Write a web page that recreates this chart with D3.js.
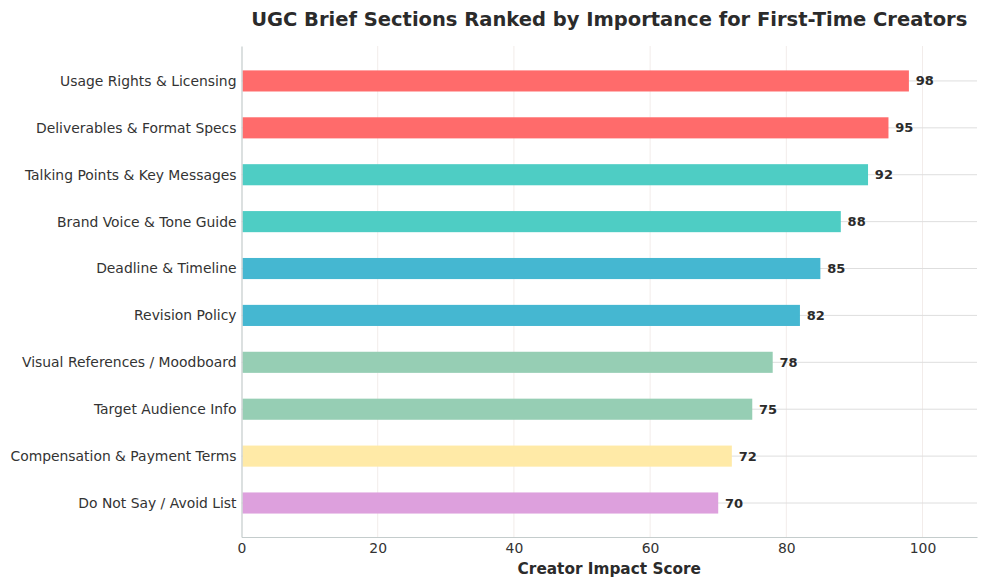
<!DOCTYPE html>
<html>
<head>
<meta charset="utf-8">
<script src="https://cdn.jsdelivr.net/npm/d3@7"></script>
<style>
  body { margin: 0; background: #fff; }
  svg { font-family: "DejaVu Sans", sans-serif; }
</style>
</head>
<body>
<div id="chart-area"></div>
<script>
// data
var sections = [
	"Usage Rights & Licensing",
	"Deliverables & Format Specs",
	"Talking Points & Key Messages",
	"Brand Voice & Tone Guide",
	"Deadline & Timeline",
	"Revision Policy",
	"Visual References / Moodboard",
	"Target Audience Info",
	"Compensation & Payment Terms",
	"Do Not Say / Avoid List"
];
var scores = [98, 95, 92, 88, 85, 82, 78, 75, 72, 70];
var barColors = ["#FF6B6B", "#FF6B6B", "#4ECDC4", "#4ECDC4", "#45B7D1",
	"#45B7D1", "#96CEB4", "#96CEB4", "#FFEAA7", "#DDA0DD"];
var xTicks = [0, 20, 40, 60, 80, 100];

var data = sections.map(function(s, i){
	return {name: s, score: scores[i], color: barColors[i], i: i};
});

var width = 987, height = 586;
var mLeft = 241.5, mRight = 977, mTop = 46, mBottom = 537;

var svg = d3.select("#chart-area")
			.append("svg")
			.attr("width", width)
			.attr("height", height);

var x = d3.scaleLinear()
		.domain([0, 108])
		.range([mLeft, mRight]);

var y = d3.scaleLinear()
		.domain([-0.745, 9.725])
		.range([mTop, mBottom]);

var barH = 0.45 * (y(1) - y(0));

// vertical grid (faint)
svg.append("g")
	.selectAll("line")
	.data(xTicks.slice(1))
	.enter()
	.append("line")
	.attr("x1", function(d){ return x(d); })
	.attr("x2", function(d){ return x(d); })
	.attr("y1", mTop)
	.attr("y2", mBottom)
	.attr("stroke", "#f2ecea")
	.attr("stroke-width", 1);

// horizontal grid at category positions
svg.append("g")
	.selectAll("line")
	.data(data)
	.enter()
	.append("line")
	.attr("x1", mLeft)
	.attr("x2", mRight)
	.attr("y1", function(d){ return y(d.i); })
	.attr("y2", function(d){ return y(d.i); })
	.attr("stroke", "#dedede")
	.attr("stroke-width", 1);

// bars
svg.append("g")
	.selectAll("rect")
	.data(data)
	.enter()
	.append("rect")
	.attr("x", x(0) + 1)
	.attr("y", function(d){ return y(d.i) - barH / 2; })
	.attr("width", function(d){ return x(d.score) - x(0) - 1; })
	.attr("height", barH)
	.attr("fill", function(d){ return d.color; });

// value labels
svg.append("g")
	.selectAll("text")
	.data(data)
	.enter()
	.append("text")
	.attr("x", function(d){ return x(d.score + 1); })
	.attr("y", function(d){ return y(d.i); })
	.attr("dy", "0.35em")
	.attr("font-size", 13)
	.attr("font-weight", "bold")
	.attr("fill", "#2b2b2b")
	.text(function(d){ return d.score; });

// axes
var xAxis = d3.axisBottom(x)
		.tickValues(xTicks)
		.tickSize(0)
		.tickPadding(6);
var gx = svg.append("g")
	.attr("transform", "translate(0," + mBottom + ")")
	.call(xAxis);
gx.select(".domain").attr("stroke", "#c4cccc").attr("stroke-width", 1.2);
gx.selectAll("text").attr("font-size", 13.9).attr("fill", "#333")
	.attr("font-family", "DejaVu Sans, sans-serif");

var yAxis = d3.axisLeft(y)
		.tickValues(d3.range(sections.length))
		.tickFormat(function(i){ return sections[i]; })
		.tickSize(0)
		.tickPadding(5);
var gy = svg.append("g")
	.attr("transform", "translate(" + mLeft + ",0)")
	.call(yAxis);
gy.select(".domain").attr("stroke", "#c4cccc").attr("stroke-width", 1.2);
gy.selectAll("text").attr("font-size", 13.9).attr("fill", "#333")
	.attr("font-family", "DejaVu Sans, sans-serif");

// title and axis label
svg.append("text")
	.attr("x", (mLeft + mRight) / 2)
	.attr("y", 26)
	.attr("text-anchor", "middle")
	.attr("font-size", 19.5)
	.attr("font-weight", "bold")
	.attr("fill", "#2b2b2b")
	.text("UGC Brief Sections Ranked by Importance for First-Time Creators");

svg.append("text")
	.attr("x", (mLeft + mRight) / 2)
	.attr("y", 574)
	.attr("text-anchor", "middle")
	.attr("font-size", 15.3)
	.attr("font-weight", "bold")
	.attr("fill", "#2b2b2b")
	.text("Creator Impact Score");
</script>
</body>
</html>
